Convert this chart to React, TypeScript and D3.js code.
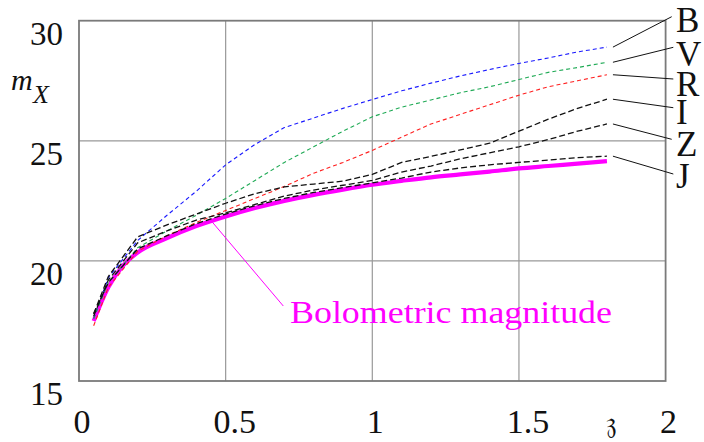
import React from "react";
import * as d3 from "d3";

const width = 704;
const height = 442;
const frame = { left: 79, right: 665.6, top: 20.7, bottom: 381 };

// redshift samples for the band curves
const zBands = [0.05, 0.1, 0.2, 0.3, 0.4, 0.5, 0.6, 0.7, 0.8, 0.9, 1.0, 1.1, 1.2, 1.3, 1.4, 1.5, 1.6, 1.7, 1.8];
const magB = [17.6, 19.3, 20.85, 21.9, 22.9, 24.0, 24.85, 25.55, 25.95, 26.35, 26.72, 27.08, 27.4, 27.7, 27.97, 28.22, 28.45, 28.7, 28.9];
const magV = [17.6, 19.1, 20.55, 21.25, 21.9, 22.6, 23.35, 24.1, 24.75, 25.4, 26.0, 26.4, 26.7, 27.0, 27.25, 27.55, 27.85, 28.05, 28.27];
const magR = [17.3, 18.9, 20.4, 21.05, 21.6, 22.1, 22.6, 23.1, 23.65, 24.1, 24.6, 25.15, 25.7, 26.1, 26.5, 26.9, 27.25, 27.5, 27.75];
const magI = [17.8, 19.35, 21.0, 21.5, 21.95, 22.4, 22.8, 23.08, 23.2, 23.32, 23.6, 24.1, 24.35, 24.62, 24.9, 25.4, 25.9, 26.35, 26.73];
const magZ = [17.7, 19.2, 20.75, 21.25, 21.7, 22.0, 22.35, 22.7, 22.95, 23.15, 23.35, 23.7, 23.95, 24.25, 24.5, 24.75, 25.05, 25.4, 25.7];
const magJ = [17.8, 19.1, 20.5, 21.05, 21.55, 21.95, 22.3, 22.6, 22.85, 23.05, 23.25, 23.45, 23.7, 23.87, 24.0, 24.1, 24.2, 24.3, 24.36];

const zBol = [0.05, 0.1, 0.15, 0.2, 0.3, 0.4, 0.5, 0.6, 0.7, 0.8, 0.9, 1.0, 1.1, 1.2, 1.3, 1.4, 1.5, 1.6, 1.7, 1.8];
const magBol = [17.5, 18.9, 19.8, 20.35, 20.95, 21.45, 21.85, 22.2, 22.5, 22.75, 22.97, 23.17, 23.33, 23.48, 23.6, 23.72, 23.85, 23.95, 24.05, 24.15];

const bandNames = ["B", "V", "R", "I", "Z", "J"];
const bandValues = [magB, magV, magR, magI, magZ, magJ];
const bandColors = ["#1a1aff", "#1faa55", "#ff2020", "#111", "#111", "#111"];

const xTicks = [0, 0.5, 1, 1.5, 2];
const yTicks = [15, 20, 25, 30];

// where each band letter sits (pixel layout of the annotations)
const labelBaseline = [32, 66, 96, 124, 156, 188];
const leaderEnd = [[671.7, 16.7], [673.3, 47.3], [673.3, 79], [673.3, 107.7], [671.7, 139.3], [673.3, 174]];

const serif = "Liberation Serif, Times New Roman, Tinos, DejaVu Serif, Noto Serif, Times, serif";

export default function App() {
  const x = d3.scaleLinear().domain([0, 2]).range([frame.left, frame.right]);
  const y = d3.scaleLinear().domain([15, 30]).range([frame.bottom, frame.top]);

  const bandLine = d3
    .line<number>()
    .x((_, i) => x(zBands[i]))
    .y((d) => y(d));

  const bolLine = d3
    .line<number>()
    .x((_, i) => x(zBol[i]))
    .y((d) => y(d))
    .curve(d3.curveMonotoneX);

  const zEnd = zBands[zBands.length - 1];
  const txt = { fontFamily: serif };

  return (
    <svg
      width={width}
      height={height}
      style={{ position: "absolute", left: 0, top: 0, background: "#fff" }}
    >
      {/* grid */}
      {xTicks.slice(1, -1).map((t) => (
        <line key={"gx" + t} x1={x(t)} x2={x(t)} y1={frame.top} y2={frame.bottom} stroke="#999" strokeWidth={1.2} />
      ))}
      {yTicks.slice(1, -1).map((t) => (
        <line key={"gy" + t} x1={frame.left} x2={frame.right} y1={y(t)} y2={y(t)} stroke="#999" strokeWidth={1.2} />
      ))}
      <rect
        x={frame.left}
        y={frame.top}
        width={frame.right - frame.left}
        height={frame.bottom - frame.top}
        fill="none"
        stroke="#7a7a7a"
        strokeWidth={1.8}
      />

      {/* tick labels */}
      {yTicks.map((t) => (
        <text key={"ty" + t} x={63} y={y(t) + 24} textAnchor="end" style={txt} fontSize={33} fill="#111">
          {t}
        </text>
      ))}
      {xTicks.map((t) => (
        <text
          key={"tx" + t}
          x={x(t) + (Number.isInteger(t) ? 3 : 9)}
          y={432.7}
          textAnchor="middle"
          style={txt}
          fontSize={34}
          fill="#111"
        >
          {t}
        </text>
      ))}

      {/* axis titles */}
      <text x={11} y={90} style={txt} fontStyle="italic" fontSize={30} fill="#111">
        m
      </text>
      <text x={33} y={103} style={txt} fontStyle="italic" fontSize={26} fill="#111">
        X
      </text>
      <text x={606} y={433} style={txt} fontSize={30} fill="#111">
        𝔷
      </text>

      {/* bolometric */}
      <path d={bolLine(magBol) || ""} fill="none" stroke="#ff00ff" strokeWidth={4.2} />

      {/* bands */}
      {bandValues.map((vals, i) => (
        <path
          key={bandNames[i]}
          d={bandLine(vals) || ""}
          fill="none"
          stroke={bandColors[i]}
          strokeWidth={i < 3 ? 1.1 : 1.3}
          strokeDasharray={i < 3 ? "4,3" : "6,3"}
        />
      ))}

      {/* band labels with leaders */}
      {bandNames.map((name, i) => {
        const vals = bandValues[i];
        return (
          <g key={"lab" + name}>
            <line
              x1={x(zEnd) + 6}
              y1={y(vals[vals.length - 1])}
              x2={leaderEnd[i][0]}
              y2={leaderEnd[i][1]}
              stroke="#111"
              strokeWidth={1}
            />
            <text x={676} y={labelBaseline[i]} style={txt} fontSize={35} fill="#111">
              {name}
            </text>
          </g>
        );
      })}

      {/* bolometric annotation */}
      <line x1={x(0.45)} y1={y(21.68)} x2={283.3} y2={306} stroke="#ff00ff" strokeWidth={1} />
      <text x={290} y={323.3} style={txt} fontSize={31} fill="#ff00ff" textLength={322} lengthAdjust="spacingAndGlyphs">
        Bolometric magnitude
      </text>
    </svg>
  );
}
